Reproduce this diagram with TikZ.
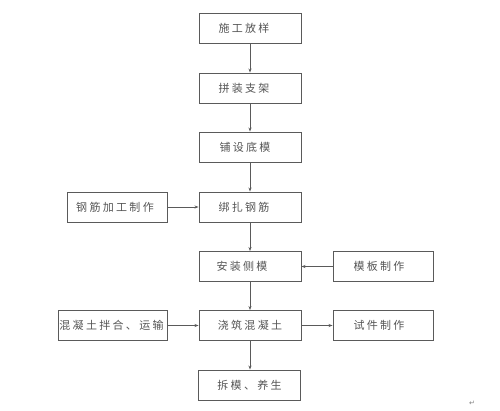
\documentclass[tikz,border=0pt]{standalone}
\usepackage{fontspec}
\usetikzlibrary{arrows.meta}
\newfontfamily\cjk[LetterSpace=21]{Noto Sans CJK SC}
\newfontfamily\dejavu{DejaVu Sans}
\definecolor{txtgray}{HTML}{555555}
\definecolor{linegray}{HTML}{5A5A5A}
\begin{document}
\begin{tikzpicture}[x=1pt,y=-1pt,
  box/.style={draw=linegray,line width=0.9pt,rectangle,inner sep=0pt,
    minimum width=102pt,minimum height=30pt,font=\cjk\fontsize{11}{13}\selectfont,text=txtgray},
  flow/.style={draw=linegray,line width=0.9pt,-{Stealth[length=4pt,width=3pt]}}]
\useasboundingbox (0,0) rectangle (500,410);
\fill[white] (0,0) rectangle (500,410);
\node[box] (a) at (250,28) {\hspace*{-12pt}施工放样};
\node[box] (b) at (250,88) {\hspace*{-12pt}拼装支架};
\node[box] (c) at (250,147) {\hspace*{-10pt}铺设底模};
\node[box] (d) at (250,207) {\hspace*{-12pt}绑扎钢筋};
\node[box,minimum width=100pt] (l1) at (117,207) {\hspace*{-4pt}钢筋加工制作};
\node[box] (e) at (250,266.5) {\hspace*{-16pt}安装侧模};
\node[box,minimum width=100pt] (r1) at (383,266.5) {\hspace*{-8pt}模板制作};
\node[box] (f) at (250,325.5) {\hspace*{0pt}浇筑混凝土};
\node[box,minimum width=109pt] (l2) at (112.5,325.5) {\hspace*{-2pt}混凝土拌合、运输};
\node[box,minimum width=100pt] (r2) at (383,325.5) {\hspace*{-8pt}试件制作};
\node[box] (g) at (249,385) {\hspace*{1pt}拆模、养生};
\node[text=gray,font=\dejavu\fontsize{7}{8}\selectfont,inner sep=0pt] (ret) at (472,403) {↵};
\draw[flow] (a) -- (b);
\draw[flow] (b) -- (c);
\draw[flow] (c) -- (d);
\draw[flow] (d) -- (e);
\draw[flow] (e) -- (f);
\draw[flow] (f.south -| c) -- (g.north -| c);
\draw[flow] (l1) -- (d);
\draw[flow] (r1) -- (e);
\draw[flow] (l2) -- (f);
\draw[flow] (f) -- (r2);
\end{tikzpicture}
\end{document}
